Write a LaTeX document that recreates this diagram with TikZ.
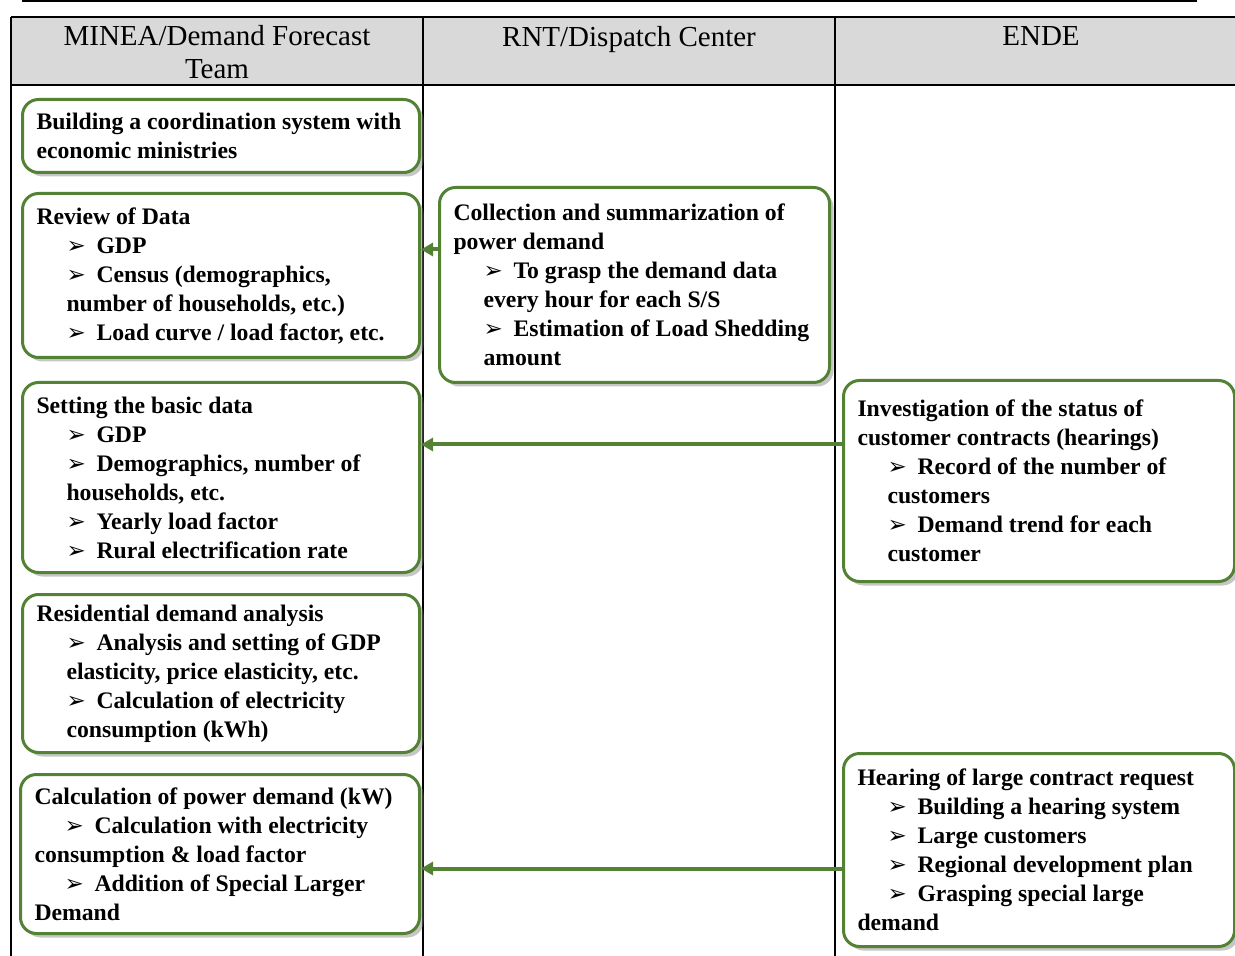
\documentclass[tikz,border=0pt]{standalone}
\usepackage{fontspec}
\setmainfont{Liberation Serif}
\newfontfamily\arrowfont{DejaVu Sans}
\usepackage{tikz}
\usetikzlibrary{arrows.meta, positioning, shadows}
\usepackage{xcolor}
\definecolor{boxgreen}{RGB}{84, 130, 53}
\definecolor{headgray}{RGB}{217, 217, 217}
\newcommand{\bul}{\hspace*{15pt}\makebox[15pt][l]{\arrowfont\bfseries\fontsize{11.5}{11.5}\selectfont ➢}}
\newcommand{\cont}{\hspace*{15pt}}

\begin{document}
\begin{tikzpicture}[
  x=0.5pt, y=-0.5pt,
  lane/.style = {line width=1pt},
  head/.style = {anchor=north, inner sep=0pt, align=center,
                 font=\fontsize{14.5}{16.5}\selectfont},
  box/.style  = {rectangle, rounded corners=8pt, draw=boxgreen, line width=1.5pt,
                 fill=white, anchor=north west, align=flush left, text width=#1,
                 inner xsep=7pt, inner ysep=0pt,
                 font=\bfseries\fontsize{11.85}{14.5}\selectfont,
                 drop shadow={shadow xshift=2pt, shadow yshift=-2pt, opacity=0.45}},
  arr/.style  = {-{Triangle[length=6pt, width=6.5pt]}, line width=2pt, boxgreen}
]
\useasboundingbox (0,0) rectangle (1235,956);

\draw[line width=0.7pt] (22,1) -- (1197,1);
\fill[headgray] (11,17) rectangle (1235,85);
\draw[lane] (11,17) -- (1235,17);
\draw[lane] (11,85) -- (1235,85);
\draw[lane] (11,17) -- (11,956);
\draw[lane] (423,17) -- (423,956);
\draw[lane] (835,17) -- (835,956);

\node[head] (minea) at (217,25) {MINEA/Demand Forecast\\Team};
\node[head] (rnt)   at (629,26) {RNT/Dispatch Center};
\node[head] (ende)  at (1041,26) {ENDE};

\node[box=184.5pt, minimum height=36.5pt] (coord) at (21,98)
  {Building a coordination system with\\economic ministries};
\node[box=184.5pt, minimum height=82pt] (review) at (21,192)
  {Review of Data\\\bul GDP\\\bul Census (demographics,\\\cont number of households, etc.)\\\bul Load curve / load factor, etc.};
\node[box=181pt, minimum height=97.5pt] (collect) at (438,186)
  {Collection and summarization of\\power demand\\\bul To grasp the demand data\\\cont every hour for each S/S\\\bul Estimation of Load Shedding\\\cont amount};
\node[box=184.5pt, minimum height=95pt] (basic) at (21,381)
  {Setting the basic data\\\bul GDP\\\bul Demographics, number of\\\cont households, etc.\\\bul Yearly load factor\\\bul Rural electrification rate};
\node[box=181.5pt, minimum height=100.5pt] (contract) at (842,379)
  {Investigation of the status of\\customer contracts (hearings)\\\bul Record of the number of\\\cont customers\\\bul Demand trend for each\\\cont customer};
\node[box=184.5pt, minimum height=79pt] (resid) at (21,593)
  {Residential demand analysis\\\bul Analysis and setting of GDP\\\cont elasticity, price elasticity, etc.\\\bul Calculation of electricity\\\cont consumption (kWh)};
\node[box=185.5pt, minimum height=79.5pt] (power) at (19,773)
  {Calculation of power demand (kW)\\\bul Calculation with electricity\\consumption \& load factor\\\bul Addition of Special Larger\\Demand};
\node[box=181.5pt, minimum height=96.5pt] (large) at (842,752)
  {Hearing of large contract request\\\bul Building a hearing system\\\bul Large customers\\\bul Regional development plan\\\bul Grasping special large\\demand};

\coordinate (a1) at ([yshift=17.75pt]collect.west);
\coordinate (a2) at ([yshift=18.25pt]contract.west);
\coordinate (a3) at ([yshift=-9.25pt]large.west);
\draw[arr] (a1) -- (a1 -| review.east);
\draw[arr] (a2) -- (a2 -| basic.east);
\draw[arr] (a3) -- (a3 -| power.east);
\end{tikzpicture}
\end{document}
